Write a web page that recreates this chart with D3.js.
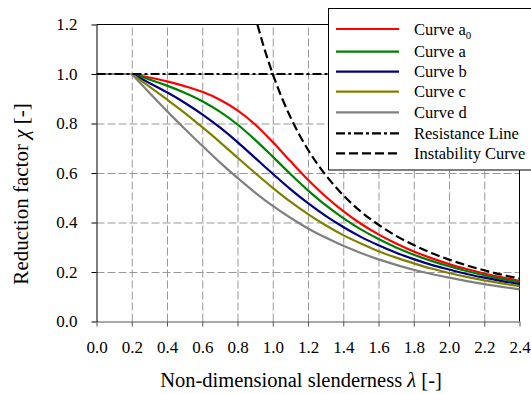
<!DOCTYPE html>
<html>
<head>
<meta charset="utf-8">
<script src="https://cdn.jsdelivr.net/npm/d3@7"></script>
<style>
  body { margin: 0; background: #fff; }
</style>
</head>
<body>
<div id="chart"></div>
<script>
// slenderness values (x) and reduction factors
var lambdas = [0, 0.2, 0.3, 0.4, 0.5, 0.6, 0.7, 0.8, 0.9, 1.0, 1.1, 1.2, 1.3, 1.4, 1.5, 1.6, 1.7, 1.8, 1.9, 2.0, 2.1, 2.2, 2.3, 2.4];
var chiA0 = [1, 1, 0.986, 0.970, 0.951, 0.928, 0.896, 0.853, 0.796, 0.725, 0.648, 0.573, 0.505, 0.446, 0.395, 0.352, 0.315, 0.283, 0.256, 0.232, 0.212, 0.194, 0.178, 0.164];
var chiA = [1, 1, 0.978, 0.953, 0.924, 0.890, 0.848, 0.796, 0.734, 0.666, 0.596, 0.530, 0.470, 0.418, 0.372, 0.333, 0.299, 0.270, 0.245, 0.223, 0.204, 0.187, 0.172, 0.159];
var chiB = [1, 1, 0.964, 0.926, 0.884, 0.837, 0.784, 0.725, 0.661, 0.597, 0.535, 0.478, 0.427, 0.382, 0.342, 0.308, 0.278, 0.252, 0.229, 0.210, 0.192, 0.177, 0.163, 0.151];
var chiC = [1, 1, 0.949, 0.897, 0.843, 0.785, 0.725, 0.662, 0.600, 0.540, 0.484, 0.434, 0.389, 0.349, 0.315, 0.284, 0.258, 0.235, 0.214, 0.196, 0.180, 0.166, 0.154, 0.143];
var chiD = [1, 1, 0.924, 0.850, 0.779, 0.710, 0.643, 0.580, 0.521, 0.467, 0.419, 0.376, 0.339, 0.306, 0.277, 0.251, 0.229, 0.209, 0.192, 0.177, 0.163, 0.151, 0.140, 0.130];

var lamRes = [0, 2.4];
var chiRes = [1, 1];

var lamInst = [0.913, 0.95, 1.0, 1.05, 1.1, 1.2, 1.3, 1.4, 1.5, 1.6, 1.7, 1.8, 1.9, 2.0, 2.1, 2.2, 2.3, 2.4];
var chiInst = [1.2, 1.108, 1.0, 0.907, 0.826, 0.694, 0.592, 0.510, 0.444, 0.391, 0.346, 0.309, 0.277, 0.250, 0.227, 0.207, 0.189, 0.174];

var xTicks = [0, 0.2, 0.4, 0.6, 0.8, 1.0, 1.2, 1.4, 1.6, 1.8, 2.0, 2.2, 2.4];
var yTicks = [0, 0.2, 0.4, 0.6, 0.8, 1.0, 1.2];

var curveNames = ['Curve a', 'Curve a', 'Curve b', 'Curve c', 'Curve d'];
var curveColors = ['#ff0000', '#008000', '#000080', '#808000', '#808080'];
var curveData = [chiA0, chiA, chiB, chiC, chiD];

var FONT = "'Liberation Serif', 'Times New Roman', Times, 'DejaVu Serif', serif";
var W = 531, H = 394;
var plot = { left: 96.5, right: 519.5, top: 24.5, bottom: 321.5 };

var svg = d3.select('#chart')
  .append('svg')
  .attr('width', W)
  .attr('height', H)
  .style('font-family', FONT);

var x = d3.scaleLinear().domain([0, 2.4]).range([plot.left, plot.right]);
var y = d3.scaleLinear().domain([0, 1.2]).range([plot.bottom, plot.top]);

// grid
svg.append('g')
  .attr('class', 'gridX')
  .attr('transform', 'translate(0,' + plot.bottom + ')')
  .call(d3.axisBottom(x).tickValues(xTicks.slice(1, -1)).tickSize(-(plot.bottom - plot.top)).tickFormat(''))
  .call(function (g) { g.select('.domain').remove(); })
  .selectAll('line')
  .attr('stroke', '#999')
  .attr('stroke-dasharray', '8,3');

svg.append('g')
  .attr('class', 'gridY')
  .attr('transform', 'translate(' + plot.left + ',0)')
  .call(d3.axisLeft(y).tickValues(yTicks.slice(1, -1)).tickSize(-(plot.right - plot.left)).tickFormat(''))
  .call(function (g) { g.select('.domain').remove(); })
  .selectAll('line')
  .attr('stroke', '#999')
  .attr('stroke-dasharray', '8,3');

// frame top & right
svg.append('line')
  .attr('x1', plot.left).attr('x2', plot.right)
  .attr('y1', plot.top).attr('y2', plot.top)
  .attr('stroke', '#000');
svg.append('line')
  .attr('x1', plot.right).attr('x2', plot.right)
  .attr('y1', plot.top).attr('y2', plot.bottom)
  .attr('stroke', '#000');

// axes
var axisX = svg.append('g')
  .attr('class', 'axisX')
  .attr('transform', 'translate(0,' + plot.bottom + ')')
  .call(d3.axisBottom(x).tickValues(xTicks).tickSize(5).tickSizeOuter(0).tickPadding(14).tickFormat(d3.format('.1f')));
axisX.select('.domain').attr('stroke', '#555');
axisX.selectAll('line').attr('stroke', '#555');
axisX.selectAll('text').attr('font-size', 17).style('font-family', FONT);

var axisY = svg.append('g')
  .attr('class', 'axisY')
  .attr('transform', 'translate(' + plot.left + ',0)')
  .call(d3.axisLeft(y).tickValues(yTicks).tickSize(5).tickSizeOuter(0).tickPadding(14).tickFormat(d3.format('.1f')));
axisY.select('.domain').attr('stroke', '#000');
axisY.selectAll('line').attr('stroke', '#000');
axisY.selectAll('text').attr('font-size', 17).style('font-family', FONT);

// curves
var flat = d3.line()
  .x(function (d) { return x(d[0]); })
  .y(function (d) { return y(d[1]); });
var smooth = d3.line()
  .x(function (d) { return x(d[0]); })
  .y(function (d) { return y(d[1]); })
  .curve(d3.curveMonotoneX);

var curves = svg.append('g').attr('class', 'curves');
curveData.forEach(function (vals, i) {
  var pts = lambdas.map(function (l, j) { return [l, vals[j]]; });
  curves.append('path')
    .attr('d', flat(pts.slice(0, 2)))
    .attr('fill', 'none')
    .attr('stroke', curveColors[i])
    .attr('stroke-width', 2.2);
  curves.append('path')
    .attr('d', smooth(pts.slice(1)))
    .attr('fill', 'none')
    .attr('stroke', curveColors[i])
    .attr('stroke-width', 2.2);
});

// resistance line
svg.append('path')
  .attr('d', flat(lamRes.map(function (l, j) { return [l, chiRes[j]]; })))
  .attr('fill', 'none')
  .attr('stroke', '#000')
  .attr('stroke-width', 2.2)
  .attr('stroke-dasharray', '9,3,3,3');

// instability curve
svg.append('path')
  .attr('d', smooth(lamInst.map(function (l, j) { return [l, chiInst[j]]; })))
  .attr('fill', 'none')
  .attr('stroke', '#000')
  .attr('stroke-width', 2.2)
  .attr('stroke-dasharray', '9,4');

// axis titles
var xt = svg.append('text')
  .attr('x', 301)
  .attr('y', 387)
  .attr('text-anchor', 'middle')
  .attr('font-size', 20.5)
  .style('font-family', FONT);
xt.append('tspan').text('Non-dimensional slenderness ');
xt.append('tspan').attr('font-style', 'italic').text('λ');
xt.append('tspan').text(' [-]');

var yt = svg.append('text')
  .attr('transform', 'translate(28,194) rotate(-90)')
  .attr('text-anchor', 'middle')
  .attr('font-size', 21)
  .style('font-family', FONT);
yt.append('tspan').text('Reduction factor ');
yt.append('tspan').attr('font-style', 'italic').text('χ');
yt.append('tspan').text(' [-]');

// legend
var legend = svg.append('g').attr('class', 'legend');
legend.append('rect')
  .attr('x', 328.5).attr('y', 8.5)
  .attr('width', 210).attr('height', 161.5)
  .attr('fill', '#fff')
  .attr('stroke', '#000');

var legendRows = [29, 51.7, 71.7, 91.7, 112.3, 133.3, 153.3];
var legendItems = [];
curveNames.forEach(function (n, i) {
  legendItems.push({ name: n, color: curveColors[i], dash: null });
});
legendItems.push({ name: 'Resistance Line', color: '#000', dash: '9,3,3,3' });
legendItems.push({ name: 'Instability Curve', color: '#000', dash: '9,4' });

legendItems.forEach(function (d, i) {
  var ly = legendRows[i];
  legend.append('line')
    .attr('x1', 336).attr('x2', 399)
    .attr('y1', ly).attr('y2', ly)
    .attr('stroke', d.color)
    .attr('stroke-width', 2.2)
    .attr('stroke-dasharray', d.dash);
  var t = legend.append('text')
    .attr('x', 414)
    .attr('y', ly + 5.6)
    .attr('font-size', 16.5)
    .style('font-family', FONT)
    .text(d.name);
  if (i === 0) {
    t.append('tspan')
      .attr('font-size', 11)
      .attr('dy', 4)
      .text('0');
  }
});
</script>
</body>
</html>
